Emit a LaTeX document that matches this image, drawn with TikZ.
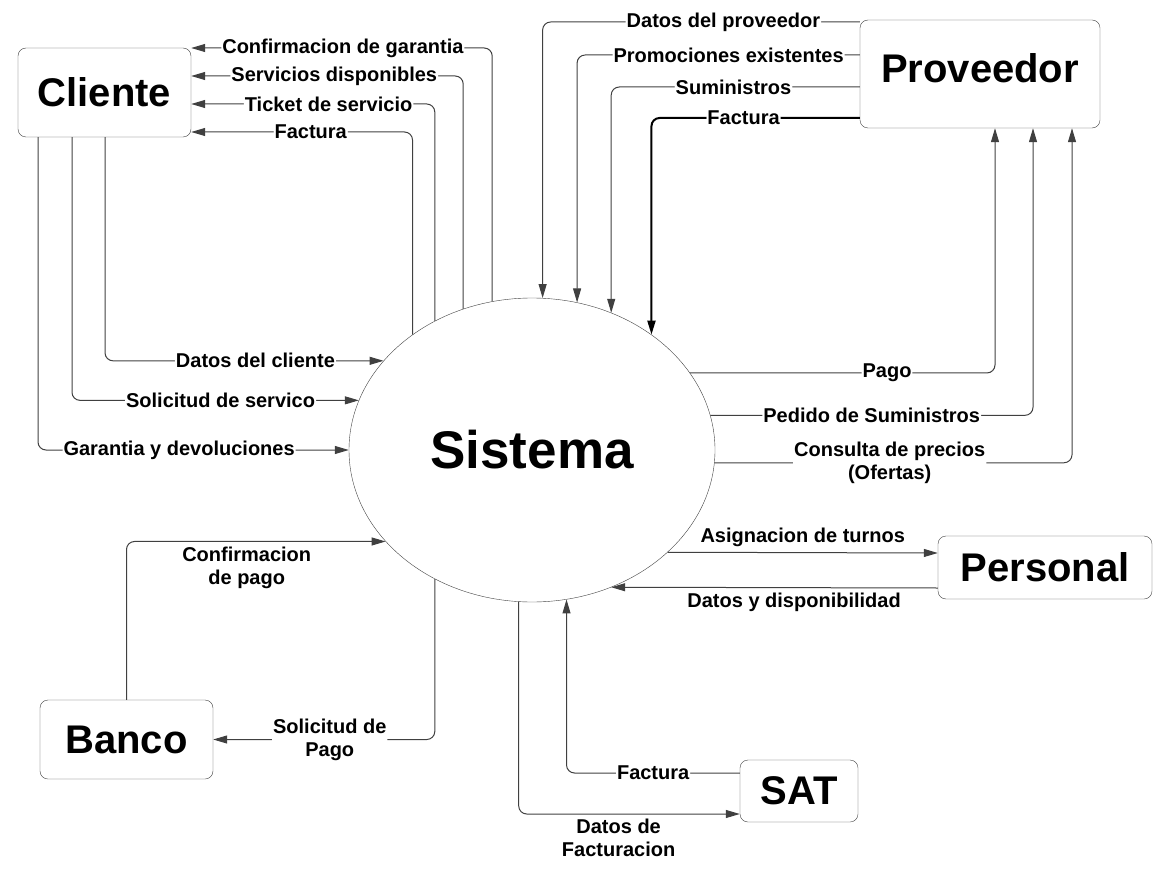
\documentclass[tikz,border=0pt]{standalone}
\usepackage{fontspec}
\setmainfont{Liberation Sans}
\usetikzlibrary{positioning,shapes.geometric,arrows.meta}

\tikzset{
  entidad/.style={draw=black!75, rectangle, rounded corners=8pt, inner sep=0pt, font=\fontsize{40}{45}\selectfont\bfseries},
  flujo/.style={draw=black!75, line width=1pt, rounded corners=8pt, -{Triangle[length=14pt,width=8pt]}},
  etiqueta/.style={fill=white, inner sep=1pt, align=center, font=\fontsize{20}{23}\selectfont\bfseries},
}

\begin{document}
\begin{tikzpicture}[x=1pt,y=-1pt]
    \useasboundingbox (0,0) rectangle (1159,896);
    \node[draw=black!75, ellipse, minimum width=366pt, minimum height=304pt, inner sep=0pt, font=\fontsize{53}{60}\selectfont\bfseries] (sistema) at (532,450) {Sistema};
    \node[entidad, minimum width=173pt, minimum height=89pt] (cliente) at (104.5,92.5) {Cliente};
    \node[entidad, minimum width=240pt, minimum height=108pt, text depth=12pt] (proveedor) at (980,74) {Proveedor};
    \node[entidad, minimum width=214pt, minimum height=63pt] (personal) at (1045,567.5) {Personal};
    \node[entidad, minimum width=173pt, minimum height=79pt] (banco) at (126.5,739.5) {Banco};
    \node[entidad, minimum width=118pt, minimum height=62pt] (sat) at (799,791) {SAT};

    % Sistema -> Cliente
    \draw[flujo] (sistema.105.5) |- (cliente.east |- 0,48) node[etiqueta, pos=.748] {Confirmacion de garantia};
    \draw[flujo] (sistema.116.1) |- (cliente.east |- 0,76) node[etiqueta, pos=.737] {Servicios disponibles};
    \draw[flujo] (sistema.127.35) |- (cliente.east |- 0,104) node[etiqueta, pos=.718] {Ticket de servicio};
    \draw[flujo] (sistema.136.7) |- (cliente.east |- 0,132) node[etiqueta, pos=.73] {Factura};

    % Cliente -> Sistema
    \draw[flujo] (cliente.south -| 105,0) |- (sistema.149.9) node[etiqueta, pos=.77] {Datos del cliente};
    \draw[flujo] (cliente.south -| 72,0) |- (sistema.164.9) node[etiqueta, pos=.759] {Solicitud de servico};
    \draw[flujo] (cliente.south -| 38,0) |- (sistema.180) node[etiqueta, pos=.727] {Garantia y devoluciones};

    % Proveedor -> Sistema
    \draw[flujo] (proveedor.west |- 0,22) -| (sistema.86.6) node[etiqueta, pos=.215] {Datos del proveedor};
    \draw[flujo] (proveedor.west |- 0,55) -| (sistema.73.8) node[etiqueta, pos=.232] {Promociones existentes};
    \draw[flujo] (proveedor.west |- 0,87) -| (sistema.60.4) node[etiqueta, pos=.254] {Suministros};
    \draw[flujo, draw=black, line width=2pt] (proveedor.west |- 0,118) -| (sistema.44.6) node[etiqueta, pos=.279] {Factura};

    % Sistema -> Proveedor
    \draw[flujo] (sistema.26) -| (proveedor.south -| 995,0) node[etiqueta, pos=.323] {Pago};
    \draw[flujo] (sistema.11.8) -| (proveedor.south -| 1033,0) node[etiqueta, pos=.25] {Pedido de Suministros};
    \draw[flujo] (sistema.-4.7) -| (proveedor.south -| 1072,0) node[etiqueta, pos=.245] {Consulta de precios\\(Ofertas)};

    % Personal
    \draw[flujo] (sistema.-37.4) -- (personal.west |- 0,553) node[etiqueta, above=4pt, midway] {Asignacion de turnos};
    \draw[flujo] (personal.west |- 0,588) -- (sistema.-60.9) node[etiqueta, below=4pt, pos=.44] {Datos y disponibilidad};

    % Banco
    \draw[flujo] (banco.north) |- (sistema.212.3) node[etiqueta, below=4pt, pos=.732] {Confirmacion\\de pago};
    \draw[flujo] (sistema.-127.35) |- (banco.east) node[etiqueta, pos=.737] {Solicitud de\\Pago};

    % SAT
    \draw[flujo] (sat.west |- 0,773) -| (sistema.-77.2) node[etiqueta, pos=.25] {Factura};
    \draw[flujo] (sistema.-95.65) |- (sat.west |- 0,814) node[etiqueta, below=4pt, pos=.726] {Datos de\\Facturacion};
\end{tikzpicture}
\end{document}
